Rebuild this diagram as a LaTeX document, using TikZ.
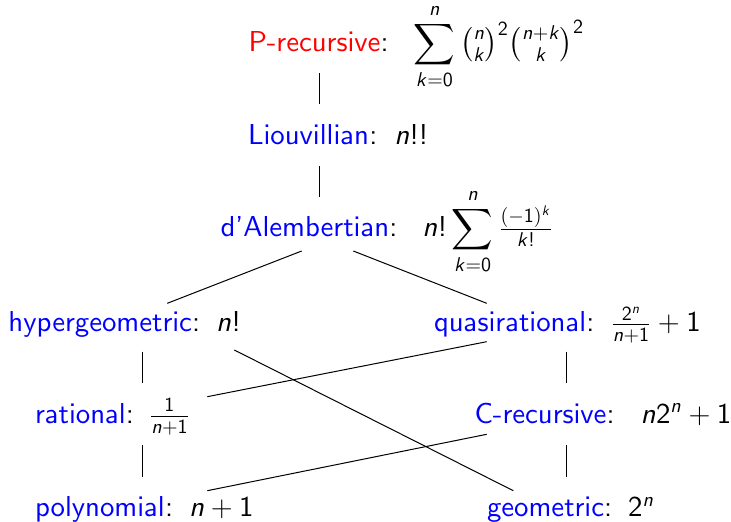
\documentclass[tikz,border=0pt]{standalone}
\usepackage{amsmath}
\DeclareFontFamily{OT1}{mysf}{}
\DeclareFontShape{OT1}{mysf}{m}{n}{<-> cmss10}{}
\DeclareFontShape{OT1}{mysf}{m}{sl}{<-> cmssi10}{}
\DeclareSymbolFont{sfnum}{OT1}{mysf}{m}{n}
\DeclareSymbolFont{sfit}{OT1}{mysf}{m}{sl}
\DeclareMathSymbol{0}{\mathalpha}{sfnum}{`0}
\DeclareMathSymbol{1}{\mathalpha}{sfnum}{`1}
\DeclareMathSymbol{2}{\mathalpha}{sfnum}{`2}
\DeclareMathSymbol{!}{\mathclose}{sfnum}{`!}
\DeclareMathSymbol{n}{\mathalpha}{sfit}{`n}
\DeclareMathSymbol{k}{\mathalpha}{sfit}{`k}
\tikzset{
  lbl/.style={anchor=base west, inner sep=0pt, outer sep=0pt,
    font=\fontencoding{OT1}\fontfamily{mysf}\fontsize{14.4}{17}\selectfont},
  conn/.style={line width=0.5pt, black},
}
\newcommand\cl[1]{{\color{blue}#1}}
\begin{document}
\begin{tikzpicture}[x=0.5pt,y=-0.5pt]
\useasboundingbox[fill=white] (0,0) rectangle (731,522);
\node[lbl] (prec) at (248.5,52) {{\color{red}P-recursive}:\hspace{12.5pt}$\displaystyle\sum_{k=0}^{n}\tbinom{n}{k}^{2}\tbinom{n+k}{k}^{2}$};
\node[lbl] (liou) at (248,145) {\cl{Liouvillian}:\hspace{8.5pt}$n!!$};
\node[lbl] (dale) at (220.5,236.7) {\cl{d'Alembertian}:\hspace{12.5pt}$n!\displaystyle\sum_{k=0}^{n}\tfrac{(-1)^k}{k!}$};
\node[lbl] (hyp) at (8.5,331.7) {\cl{hypergeometric}:\hspace{8pt}$n!$};
\node[lbl] (qua) at (434,331.7) {\cl{quasirational}:\hspace{8pt}$\tfrac{2^n}{n+1}+1$};
\node[lbl] (rat) at (35,423.3) {\cl{rational}:\hspace{7.5pt}$\tfrac{1}{n+1}$};
\node[lbl] (crec) at (474.5,423.3) {\cl{C-recursive}:\hspace{13pt}$n2^n+1$};
\node[lbl] (poly) at (35,516.7) {\cl{polynomial}:\hspace{8pt}$n+1$};
\node[lbl] (geo) at (487,516.7) {\cl{geometric}:\hspace{8pt}$2^n$};
% connector end points
\coordinate (pr-s) at (319.5,73.3);
\coordinate (li-n) at (319.5,104.3);
\coordinate (li-s) at (319.5,166);
\coordinate (da-n) at (319.5,197.3);
\coordinate (da-sw) at (301.7,251);
\coordinate (hy-ne) at (167.3,303.3);
\coordinate (da-se) at (353.3,251);
\coordinate (qu-nw) at (486.7,303.3);
\coordinate (hy-s) at (142.3,351.7);
\coordinate (ra-n) at (142.3,383.3);
\coordinate (ra-s) at (142.3,445);
\coordinate (po-n) at (142.3,476.7);
\coordinate (qu-s) at (566.7,351.7);
\coordinate (cr-n) at (566.7,383.3);
\coordinate (cr-s) at (566.7,445);
\coordinate (ge-n) at (566.7,476.7);
\coordinate (hy-se) at (234.3,350);
\coordinate (ge-nw) at (513.3,490.7);
\coordinate (ra-ne) at (207.3,396.7);
\coordinate (qu-sw) at (486.7,341.7);
\coordinate (po-ne) at (207.3,490.7);
\coordinate (cr-sw) at (486.7,434.3);
\draw[conn] (pr-s) -- (li-n);
\draw[conn] (li-s) -- (da-n);
\draw[conn] (da-sw) -- (hy-ne);
\draw[conn] (da-se) -- (qu-nw);
\draw[conn] (hy-s) -- (ra-n);
\draw[conn] (ra-s) -- (po-n);
\draw[conn] (qu-s) -- (cr-n);
\draw[conn] (cr-s) -- (ge-n);
\draw[conn] (hy-se) -- (ge-nw);
\draw[conn] (ra-ne) -- (qu-sw);
\draw[conn] (po-ne) -- (cr-sw);
\end{tikzpicture}
\end{document}
